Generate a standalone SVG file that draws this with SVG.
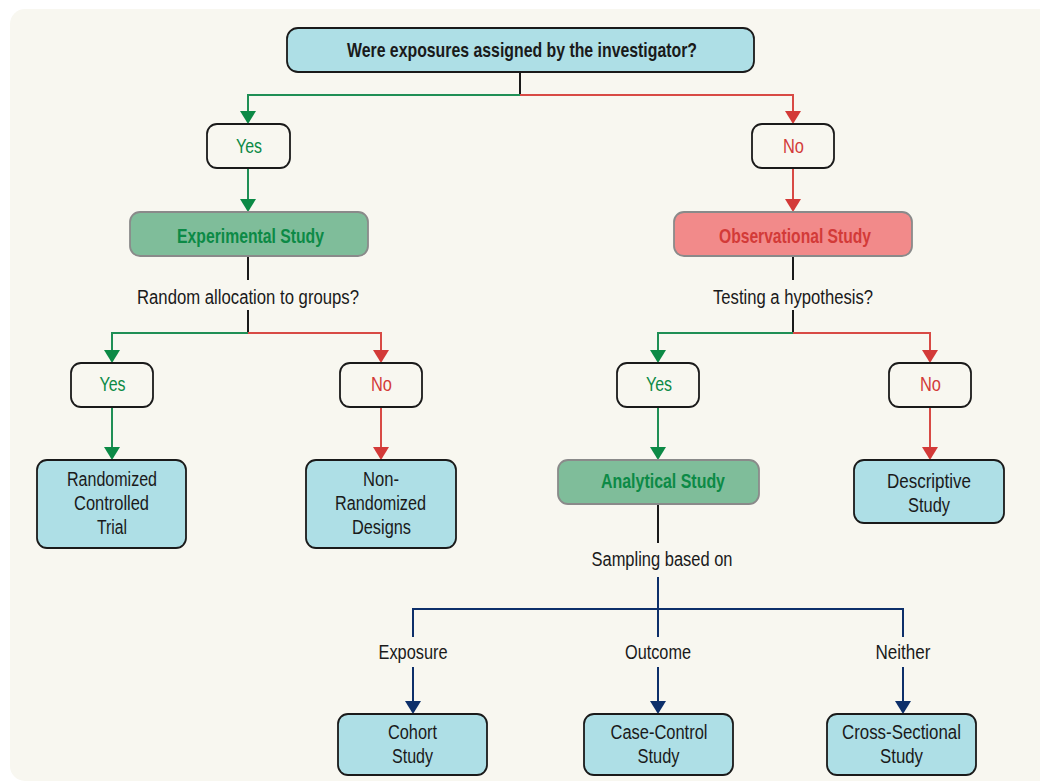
<svg xmlns="http://www.w3.org/2000/svg" width="1040" height="782" viewBox="0 0 1040 782">
<defs>
<style>
text{font-family:"Liberation Sans",Arial,sans-serif;font-size:19.5px;text-anchor:middle;fill:#1a1a1a}
.b{font-weight:bold;font-size:21px}
.gt{fill:#0c8a46}
.rt{fill:#d33a38}
.box{fill:#aedfe6;stroke:#1a1a1a;stroke-width:1.8}
.ans{fill:#f8f7f0;stroke:#1a1a1a;stroke-width:1.8}
.gbox{fill:#7fbd9a;stroke:#8a8a8a;stroke-width:1.8}
.rbox{fill:#f28a8a;stroke:#8a8a8a;stroke-width:1.8}
.k{fill:none;stroke:#1a1a1a;stroke-width:2}
.g{fill:none;stroke:#1f8f55;stroke-width:2}
.r{fill:none;stroke:#d84a45;stroke-width:2}
.n{fill:none;stroke:#0d2f6a;stroke-width:2}
</style>
<marker id="ag" viewBox="0 0 13 16" refX="7" refY="8" markerWidth="13" markerHeight="16" markerUnits="userSpaceOnUse" orient="auto"><path d="M0,0 L13,8 L0,16 z" fill="#0c8a46"/></marker>
<marker id="ar" viewBox="0 0 13 16" refX="7" refY="8" markerWidth="13" markerHeight="16" markerUnits="userSpaceOnUse" orient="auto"><path d="M0,0 L13,8 L0,16 z" fill="#d33a38"/></marker>
<marker id="an" viewBox="0 0 13 16" refX="7" refY="8" markerWidth="13" markerHeight="16" markerUnits="userSpaceOnUse" orient="auto"><path d="M0,0 L13,8 L0,16 z" fill="#0d2f6a"/></marker>
</defs>
<rect x="0" y="0" width="1040" height="782" fill="#ffffff"/>
<rect x="10" y="9" width="1060" height="772" rx="15" fill="#f8f7f0"/>

<g id="connectors">
<path class="k" d="M520,72 V95"/>
<path class="g" d="M520,95 H248 V118" marker-end="url(#ag)"/>
<path class="r" d="M520,95 H793 V118" marker-end="url(#ar)"/>
<path class="g" d="M248,168 V206" marker-end="url(#ag)"/>
<path class="r" d="M793,168 V206" marker-end="url(#ar)"/>
<path class="k" d="M248,256 V280 M248,310 V333"/>
<path class="g" d="M248,333 H112 V357" marker-end="url(#ag)"/>
<path class="r" d="M248,333 H381 V357" marker-end="url(#ar)"/>
<path class="g" d="M112,407 V454" marker-end="url(#ag)"/>
<path class="r" d="M381,407 V454" marker-end="url(#ar)"/>
<path class="k" d="M793,256 V280 M793,310 V333"/>
<path class="g" d="M793,333 H658 V357" marker-end="url(#ag)"/>
<path class="r" d="M793,333 H930 V357" marker-end="url(#ar)"/>
<path class="g" d="M658,407 V454" marker-end="url(#ag)"/>
<path class="r" d="M930,407 V454" marker-end="url(#ar)"/>
<path class="k" d="M658,504 V543"/>
<path class="n" d="M658,577 V637 M413,637 V609 H903 V637"/>
<path class="n" d="M413,667 V708" marker-end="url(#an)"/>
<path class="n" d="M658,667 V708" marker-end="url(#an)"/>
<path class="n" d="M903,667 V708" marker-end="url(#an)"/>
<text x="248" y="304" textLength="222" lengthAdjust="spacingAndGlyphs">Random allocation to groups?</text>
<text x="793" y="304" textLength="160" lengthAdjust="spacingAndGlyphs">Testing a hypothesis?</text>
<text x="662" y="566" textLength="141" lengthAdjust="spacingAndGlyphs">Sampling based on</text>
<text x="413" y="659" textLength="69" lengthAdjust="spacingAndGlyphs">Exposure</text>
<text x="658" y="659" textLength="66" lengthAdjust="spacingAndGlyphs">Outcome</text>
<text x="903" y="659" textLength="55" lengthAdjust="spacingAndGlyphs">Neither</text>
</g>

<g id="q1"><rect class="box" x="287" y="28" width="467" height="44" rx="11"/><text class="b" x="522" y="57" textLength="350" lengthAdjust="spacingAndGlyphs">Were exposures assigned by the investigator?</text></g>
<g id="yes1"><rect class="ans" x="207" y="124" width="83" height="44" rx="10"/><text class="gt" x="249" y="153" textLength="26" lengthAdjust="spacingAndGlyphs">Yes</text></g>
<g id="no1"><rect class="ans" x="752" y="124" width="82" height="44" rx="10"/><text class="rt" x="793.5" y="153" textLength="21" lengthAdjust="spacingAndGlyphs">No</text></g>
<g id="experimental"><rect class="gbox" x="130" y="212" width="238" height="44" rx="10"/><text class="b gt" x="250.5" y="243" textLength="147" lengthAdjust="spacingAndGlyphs">Experimental Study</text></g>
<g id="observational"><rect class="rbox" x="674" y="212" width="238" height="44" rx="10"/><text class="b rt" x="795" y="243" textLength="152" lengthAdjust="spacingAndGlyphs">Observational Study</text></g>
<g id="yes2"><rect class="ans" x="71" y="363" width="82" height="44" rx="10"/><text class="gt" x="112.5" y="391" textLength="26" lengthAdjust="spacingAndGlyphs">Yes</text></g>
<g id="no2"><rect class="ans" x="340" y="363" width="82" height="44" rx="10"/><text class="rt" x="381.5" y="391" textLength="21" lengthAdjust="spacingAndGlyphs">No</text></g>
<g id="rct"><rect class="box" x="37" y="460" width="149" height="88" rx="10"/><text x="112" y="486" textLength="90" lengthAdjust="spacingAndGlyphs">Randomized</text><text x="111.5" y="510" textLength="75" lengthAdjust="spacingAndGlyphs">Controlled</text><text x="112" y="534" textLength="30" lengthAdjust="spacingAndGlyphs">Trial</text></g>
<g id="nrd"><rect class="box" x="306" y="460" width="150" height="88" rx="10"/><text x="381" y="486" textLength="36" lengthAdjust="spacingAndGlyphs">Non-</text><text x="380.5" y="510" textLength="91" lengthAdjust="spacingAndGlyphs">Randomized</text><text x="381.5" y="534" textLength="59" lengthAdjust="spacingAndGlyphs">Designs</text></g>
<g id="yes3"><rect class="ans" x="617" y="363" width="82" height="44" rx="10"/><text class="gt" x="659" y="391" textLength="26" lengthAdjust="spacingAndGlyphs">Yes</text></g>
<g id="no3"><rect class="ans" x="889" y="363" width="82" height="44" rx="10"/><text class="rt" x="930.5" y="391" textLength="21" lengthAdjust="spacingAndGlyphs">No</text></g>
<g id="analytical"><rect class="gbox" x="558" y="460" width="201" height="44" rx="10"/><text class="b gt" x="663" y="488" textLength="124" lengthAdjust="spacingAndGlyphs">Analytical Study</text></g>
<g id="descriptive"><rect class="box" x="854" y="460" width="150" height="63" rx="10"/><text x="929" y="488" textLength="84" lengthAdjust="spacingAndGlyphs">Descriptive</text><text x="929" y="512" textLength="42" lengthAdjust="spacingAndGlyphs">Study</text></g>
<g id="cohort"><rect class="box" x="338" y="714" width="149" height="61" rx="10"/><text x="412.5" y="739" textLength="49" lengthAdjust="spacingAndGlyphs">Cohort</text><text x="412.5" y="763" textLength="41" lengthAdjust="spacingAndGlyphs">Study</text></g>
<g id="casecontrol"><rect class="box" x="584" y="714" width="149" height="61" rx="10"/><text x="659" y="739" textLength="97" lengthAdjust="spacingAndGlyphs">Case-Control</text><text x="658.5" y="763" textLength="42" lengthAdjust="spacingAndGlyphs">Study</text></g>
<g id="crosssectional"><rect class="box" x="827" y="714" width="149" height="61" rx="10"/><text x="901.5" y="739" textLength="119" lengthAdjust="spacingAndGlyphs">Cross-Sectional</text><text x="901.5" y="763" textLength="43" lengthAdjust="spacingAndGlyphs">Study</text></g>
</svg>
